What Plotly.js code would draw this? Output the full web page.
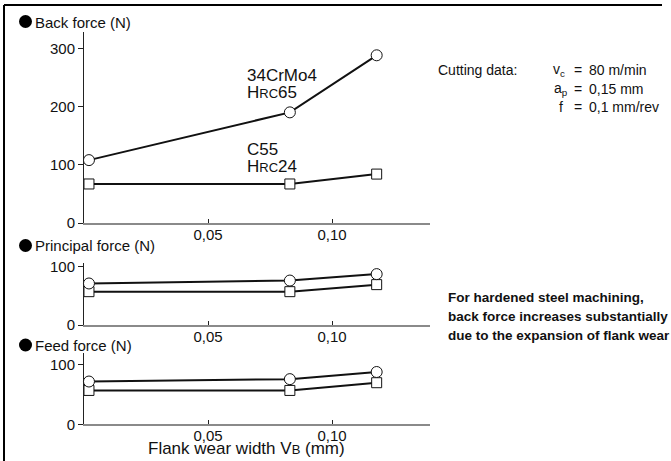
<!DOCTYPE html>
<html>
<head>
<meta charset="utf-8">
<script src="https://cdn.plot.ly/plotly-3.0.1.min.js"></script>
<style>html,body{margin:0;padding:0;background:#fff;}#chart{width:671px;height:461px;}</style>
</head>
<body>
<div id="chart"></div>
<script>
// Flank wear width VB (mm)
var flankWear = [0.002, 0.083, 0.118];
// 34CrMo4 HRC65 (circles) and C55 HRC24 (squares)
var backHard = [108, 190, 288];
var backSoft = [67, 67, 84];
var principalHard = [71, 76, 87];
var principalSoft = [57, 57, 69];
var feedHard = [72, 76, 88];
var feedSoft = [57, 57, 70];
var xTickVals = [0.05, 0.10];
var xTickText = ['0,05', '0,10'];
var yTicksBack = [0, 100, 200, 300];
var yTicksSmall = [0, 100];

var W = 671, H = 461;
function px(x) { return x / W; }
function py(y) { return 1 - y / H; }
var FONT = 'Liberation Sans, Arial, Helvetica, sans-serif';

function mk(x, y, xa, ya, sym, sz) {
  return {
    x: x, y: y, xaxis: xa, yaxis: ya, type: 'scatter', mode: 'lines+markers',
    line: {color: '#111', width: 2},
    marker: {symbol: sym, size: sz, color: '#fff', line: {color: '#111', width: 1}},
    cliponaxis: false, hoverinfo: 'skip'
  };
}

var data = [
  mk(flankWear, backSoft, 'x', 'y', 'square', 10),
  mk(flankWear, backHard, 'x', 'y', 'circle', 11),
  mk(flankWear, principalSoft, 'x2', 'y2', 'square', 10),
  mk(flankWear, principalHard, 'x2', 'y2', 'circle', 11),
  mk(flankWear, feedSoft, 'x3', 'y3', 'square', 10),
  mk(flankWear, feedHard, 'x3', 'y3', 'circle', 11)
];

var xDom = [px(84), px(430)];
function xax(anchor) {
  return {
    domain: xDom, anchor: anchor, range: [0, 0.1395],
    showgrid: false, zeroline: false, showline: true, linecolor: '#8a8a8a', linewidth: 2,
    ticks: 'inside', ticklen: 4, tickwidth: 1, tickcolor: '#222',
    tickmode: 'array', tickvals: xTickVals, ticktext: xTickText,
    ticklabelstandoff: -3,
    tickfont: {family: FONT, size: 15, color: '#111'}
  };
}
function yax(anchor, dom, range, tv) {
  return {
    domain: dom, anchor: anchor, range: range,
    showgrid: false, zeroline: false, showline: true, linecolor: '#222', linewidth: 1,
    ticks: 'outside', ticklen: 5, tickwidth: 1, tickcolor: '#222',
    tickmode: 'array', tickvals: tv,
    tickfont: {family: FONT, size: 15, color: '#111'}
  };
}

function ann(text, x, y, size, opts) {
  var a = {
    text: text, xref: 'paper', yref: 'paper', x: px(x), y: py(y),
    xanchor: 'left', yanchor: 'middle', showarrow: false,
    font: {family: FONT, size: size, color: '#111'}
  };
  if (opts) for (var k in opts) a[k] = opts[k];
  return a;
}
var sc = function (t, s) { return '<span style="font-size:' + s + 'px">' + t + '</span>'; };

var annotations = [
  ann('Back force (N)', 33, 22, 15),
  ann('Principal force (N)', 33, 245.5, 15),
  ann('Feed force (N)', 33, 345, 15),
  ann('34CrMo4', 245, 75, 17),
  ann('H' + sc('RC', 13) + '65', 245, 92, 17),
  ann('C55', 245, 149, 17),
  ann('H' + sc('RC', 13) + '24', 245, 166, 17),
  ann('Flank wear width V' + sc('B', 13) + ' (mm)', 146, 448.5, 17),
  ann('Cutting data:', 436, 70, 14),
  ann('v<sub>c</sub>', 551, 70, 14),
  ann('a<sub>p</sub>', 552, 89, 14),
  ann('f', 557, 107, 14),
  ann('=', 572, 70, 14),
  ann('=', 572, 89, 14),
  ann('=', 572, 107, 14),
  ann('80 m/min', 587, 70, 14),
  ann('0,15 mm', 587, 89, 14),
  ann('0,1 mm/rev', 587, 107, 14),
  ann('<b>For hardened steel machining,</b>', 446, 297, 13.5),
  ann('<b>back force increases substantially</b>', 446, 316, 13.5),
  ann('<b>due to the expansion of flank wear</b>', 446, 335, 13.5)
];

function dot(cx, cy, r) {
  return {type: 'circle', xref: 'paper', yref: 'paper',
    x0: px(cx - r), x1: px(cx + r), y0: py(cy + r), y1: py(cy - r),
    fillcolor: '#000', line: {width: 0}};
}
var shapes = [
  dot(25.5, 21.5, 6.5),
  dot(25.5, 245.5, 6.5),
  dot(25.5, 345, 6.5),
  {type: 'line', xref: 'paper', yref: 'paper', x0: px(4), x1: px(662), y0: py(5), y1: py(5), line: {color: '#000', width: 2}},
  {type: 'line', xref: 'paper', yref: 'paper', x0: px(4), x1: px(4), y0: py(5), y1: py(461), line: {color: '#000', width: 2}}
];

var layout = {
  width: W, height: H, margin: {l: 0, r: 0, t: 0, b: 0},
  paper_bgcolor: '#fff', plot_bgcolor: 'rgba(0,0,0,0)',
  showlegend: false,
  font: {family: FONT, color: '#111'},
  xaxis: xax('y'), xaxis2: xax('y2'), xaxis3: xax('y3'),
  yaxis: yax('x', [py(223), py(32)], [0, 328], yTicksBack),
  yaxis2: yax('x2', [py(325), py(263)], [0, 106], yTicksSmall),
  yaxis3: yax('x3', [py(424.3), py(353)], [0, 120], yTicksSmall),
  annotations: annotations,
  shapes: shapes
};

Plotly.newPlot('chart', data, layout, {staticPlot: true, displayModeBar: false});
</script>
</body>
</html>
